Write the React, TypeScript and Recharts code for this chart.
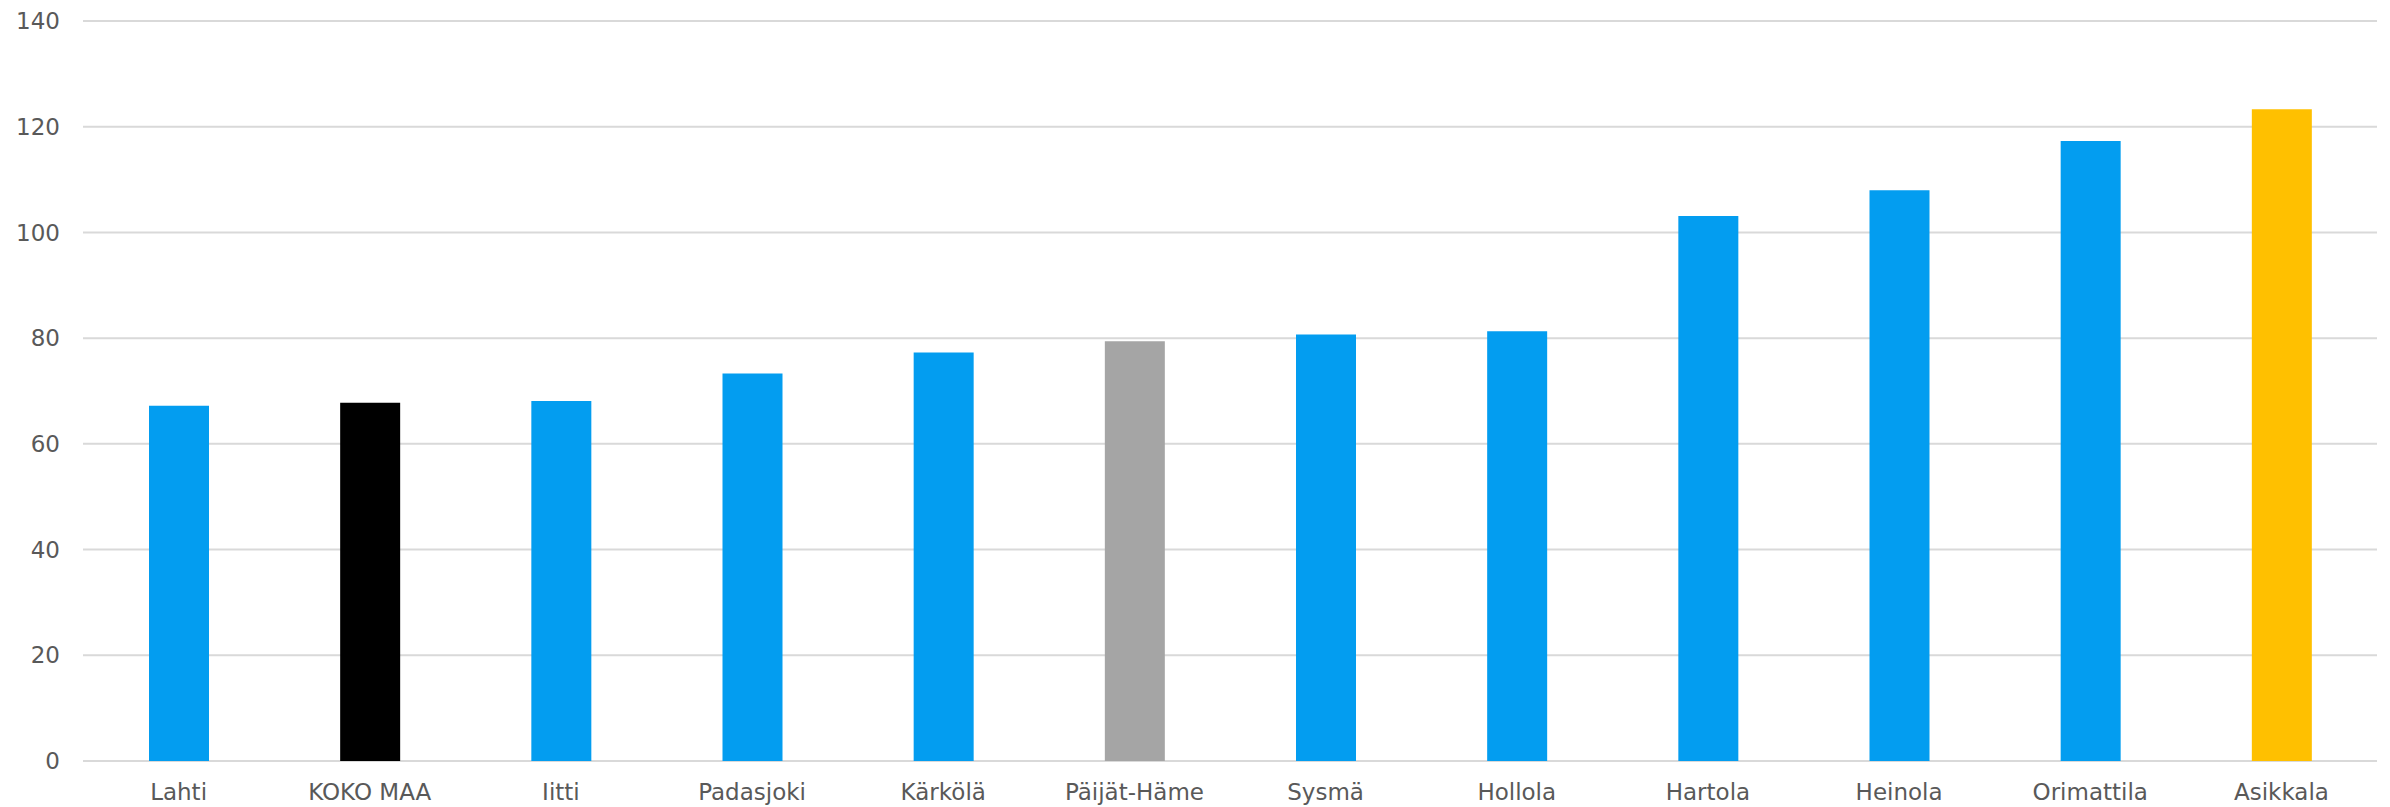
import { BarChart, Bar, XAxis, YAxis, CartesianGrid, Cell } from "recharts"

const municipalities = [
  "Lahti", "KOKO MAA", "Iitti", "Padasjoki", "Kärkölä", "Päijät-Häme",
  "Sysmä", "Hollola", "Hartola", "Heinola", "Orimattila", "Asikkala",
]
const values = [67.2, 67.8, 68.1, 73.3, 77.3, 79.4, 80.7, 81.3, 103.1, 108.0, 117.3, 123.3]
const barColors = [
  "#039DF0", "#000000", "#039DF0", "#039DF0", "#039DF0", "#A5A5A5",
  "#039DF0", "#039DF0", "#039DF0", "#039DF0", "#039DF0", "#FFC000",
]
const yTicks = [0, 20, 40, 60, 80, 100, 120, 140]

const chartData = municipalities.map((name, i) => ({ name, value: values[i] }))

const tickStyle = { fill: "#595959", fontSize: 23, fontFamily: "DejaVu Sans, Verdana, sans-serif" }

export default function App() {
  return (
    <div style={{ position: "absolute", left: 0, top: 0, background: "#fff" }}>
      <BarChart
        width={2390}
        height={807}
        data={chartData}
        margin={{ top: 21, right: 13, bottom: 0, left: 0 }}
      >
        <CartesianGrid stroke="#D9D9D9" strokeWidth={2} vertical={false} />
        <XAxis
          dataKey="name"
          axisLine={false}
          tickLine={false}
          tickMargin={17}
          height={46}
          tick={tickStyle}
          interval={0}
        />
        <YAxis
          domain={[0, 140]}
          ticks={yTicks}
          axisLine={false}
          tickLine={false}
          tickMargin={17}
          width={83}
          tick={tickStyle}
        />
        <Bar dataKey="value" barSize={60} isAnimationActive={false}>
          {chartData.map((d, i) => (
            <Cell key={d.name} fill={barColors[i]} />
          ))}
        </Bar>
      </BarChart>
    </div>
  )
}
